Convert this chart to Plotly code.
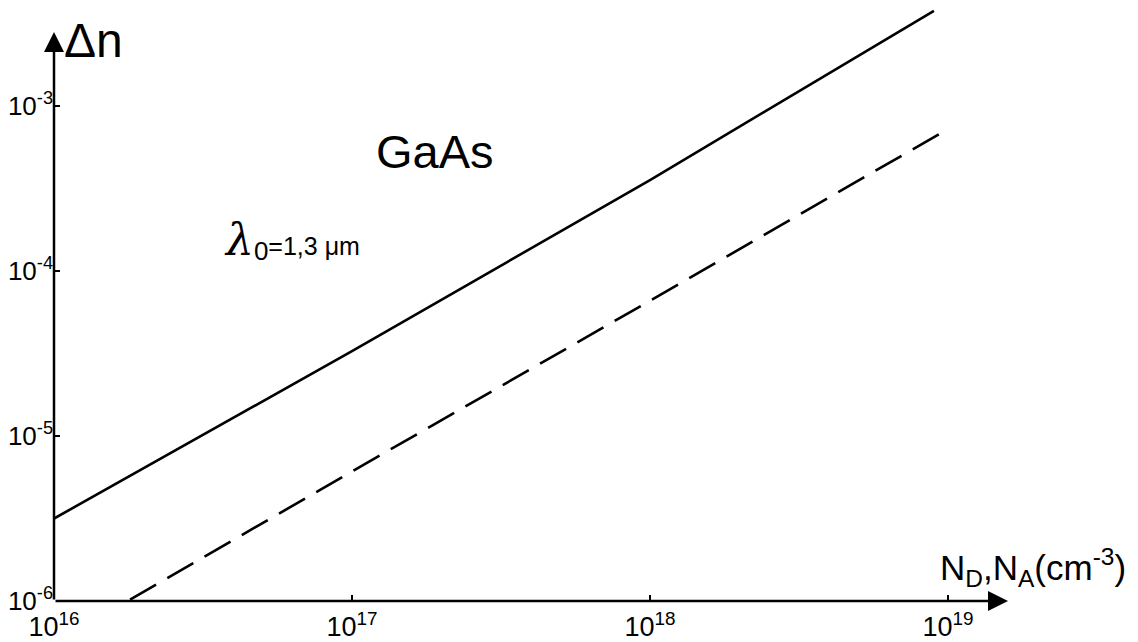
import plotly.graph_objects as go

# Data
n_doping_solid = [1e16, 1e17, 1e18, 8.97e18]
dn_solid = [3.16e-6, 3.27e-5, 3.56e-4, 3.77e-3]

n_doping_dashed = [1.8e16, 1e17, 1e18, 1e19]
dn_dashed = [1.02e-6, 6.1e-6, 6.6e-5, 7.26e-4]

x_tickvals = [1e16, 1e17, 1e18, 1e19]
x_ticktext = ["10<sup>16</sup>", "10<sup>17</sup>", "10<sup>18</sup>", "10<sup>19</sup>"]
y_tickvals = [1e-6, 1e-5, 1e-4, 1e-3]
y_ticktext = ["10<sup>-6</sup>", "10<sup>-5</sup>", "10<sup>-4</sup>", "10<sup>-3</sup>"]

FONT = "Liberation Sans, Arial, sans-serif"

fig = go.Figure()
fig.add_trace(go.Scatter(x=n_doping_solid, y=dn_solid, mode="lines",
                         line=dict(color="black", width=2.6), showlegend=False))
fig.add_trace(go.Scatter(x=n_doping_dashed, y=dn_dashed, mode="lines",
                         line=dict(color="black", width=2.6, dash="30px,13px"),
                         showlegend=False))

W, H = 1138, 642
ml, mr, mt, mb = 54, 138, 5, 41
pw = W - ml - mr
ph = H - mt - mb

fig.update_layout(
    width=W, height=H,
    margin=dict(l=ml, r=mr, t=mt, b=mb),
    paper_bgcolor="white", plot_bgcolor="white",
    font=dict(family=FONT, color="black"),
    xaxis=dict(type="log", range=[16, 16 + pw / 298.0], automargin=False,
               tickvals=x_tickvals, ticktext=x_ticktext, ticklabelstandoff=7,
               ticks="inside", ticklen=6, tickwidth=1.5, tickcolor="black",
               showline=False, showgrid=False, zeroline=False,
               tickfont=dict(size=27, family=FONT, color="black")),
    yaxis=dict(type="log", range=[-6, -6 + ph / 165.0], automargin=False,
               tickvals=y_tickvals, ticktext=y_ticktext,
               ticks="inside", ticklen=6, tickwidth=1.5, tickcolor="black",
               showline=False, showgrid=False, zeroline=False,
               tickfont=dict(size=26, family=FONT, color="black")),
)

def px_x(p):
    return (p - ml) / pw

def px_y(p):
    return (H - mb - p) / ph

x0_px, y0_px = ml, H - mb
annotations = [
    # axis lines with arrows
    dict(x=px_x(1008), y=0, xref="paper", yref="paper", ax=-(1008 - x0_px), ay=0,
         text="", showarrow=True, arrowhead=2, arrowsize=1.6, arrowwidth=2.5,
         arrowcolor="black"),
    dict(x=0, y=px_y(32), xref="paper", yref="paper", ax=0, ay=(y0_px - 32),
         text="", showarrow=True, arrowhead=2, arrowsize=1.6, arrowwidth=2.5,
         arrowcolor="black"),
    # labels
    dict(x=px_x(62), y=px_y(40), xref="paper", yref="paper", xanchor="left",
         yanchor="middle", text="Δn", showarrow=False,
         font=dict(size=48, family=FONT, color="black")),
    dict(x=px_x(435), y=px_y(151), xref="paper", yref="paper", xanchor="center",
         yanchor="middle", text="GaAs", showarrow=False,
         font=dict(size=47, family=FONT, color="black")),
    dict(x=px_x(222), y=px_y(240), xref="paper", yref="paper", xanchor="left",
         yanchor="middle",
         text="<span style='font-size:44px;font-family:DejaVu Serif, serif;font-style:italic'>λ</span><sub><span style='font-size:26px'>0</span></sub>=1,3 μm",
         showarrow=False, font=dict(size=25, family=FONT, color="black")),
    dict(x=px_x(938), y=px_y(567), xref="paper", yref="paper", xanchor="left",
         yanchor="middle",
         text="N<sub>D</sub>,N<sub>A</sub>(cm<sup>-3</sup>)",
         showarrow=False, font=dict(size=35, family=FONT, color="black")),
]
fig.update_layout(annotations=annotations)

fig.write_html("out.html")
